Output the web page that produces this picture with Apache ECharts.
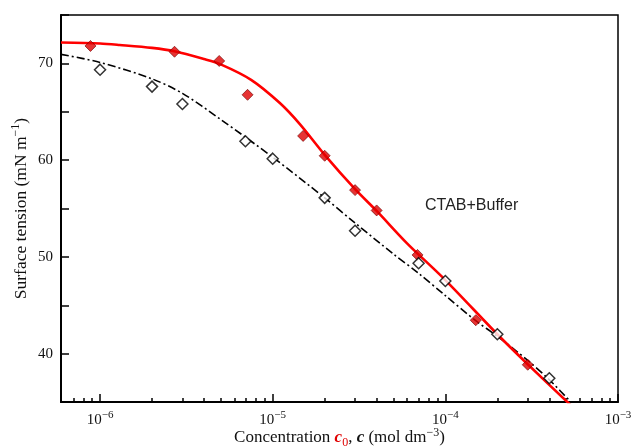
<!DOCTYPE html>
<html>
<head>
    <meta charset="UTF-8" />
    <title>Surface tension</title>
    <script src="https://cdn.jsdelivr.net/npm/echarts@6/dist/echarts.min.js"></script>
</head>
<body style="margin:0">
    <div id="chart" style="width:633px;height:448px;"></div>
    <script type="text/javascript">
        // measured points, c0 (red, filled) and c (open)
        let c0Points = [
            [8.8e-7, 71.8], [2.7e-6, 71.2], [4.9e-6, 70.25], [7.15e-6, 66.75],
            [1.5e-5, 62.5], [2.0e-5, 60.45], [3.0e-5, 56.9], [4.0e-5, 54.8],
            [6.9e-5, 50.2], [1.5e-4, 43.45], [3.0e-4, 38.85]
        ];
        let cPoints = [
            [1.0e-6, 69.35], [2.0e-6, 67.6], [3.0e-6, 65.8], [6.95e-6, 61.95],
            [1.0e-5, 60.15], [2.0e-5, 56.1], [3.0e-5, 52.7], [7.0e-5, 49.35],
            [1.0e-4, 47.5], [2.0e-4, 42.0], [4.0e-4, 37.45]
        ];
        // fitted curves
        let c0Fit = [
            [5.94e-7, 72.15], [1e-6, 72.05], [1.3e-6, 71.9], [2e-6, 71.6],
            [2.7e-6, 71.25], [4e-6, 70.45], [5e-6, 69.9], [7.5e-6, 68.3],
            [1.1e-5, 65.9], [1.44e-5, 63.7], [2e-5, 60.55], [3e-5, 57.0],
            [4e-5, 54.75], [6e-5, 51.4], [1e-4, 47.6], [2e-4, 42.0],
            [3e-4, 38.9], [5.6e-4, 34.3]
        ];
        let cFit = [
            [5.94e-7, 70.93], [1e-6, 70.1], [2e-6, 68.4], [3e-6, 66.9],
            [5e-6, 64.2], [1e-5, 60.3], [2e-5, 56.1], [3e-5, 53.5],
            [5e-5, 50.3], [7e-5, 48.3], [1e-4, 46.0], [1.5e-4, 43.4],
            [2e-4, 41.8], [3e-4, 39.3], [4e-4, 37.3], [5.6e-4, 34.6]
        ];
        let majorTicks = [1e-6, 1e-5, 1e-4, 1e-3];
        let minorTicks = [
            7e-7, 8e-7, 9e-7,
            2e-6, 3e-6, 4e-6, 5e-6, 6e-6, 7e-6, 8e-6, 9e-6,
            2e-5, 3e-5, 4e-5, 5e-5, 6e-5, 7e-5, 8e-5, 9e-5,
            2e-4, 3e-4, 4e-4, 5e-4, 6e-4, 7e-4, 8e-4, 9e-4
        ];
        let yLabels = [40, 50, 60, 70];

        let serif = 'Liberation Serif, Times New Roman, serif';
        let chart = echarts.init(document.getElementById('chart'));

        let option = {
            animation: false,
            grid: {
                left: 61, right: 15, top: 15, bottom: 46,
                outerBoundsMode: 'none', containLabel: false,
                show: true, borderColor: '#000', borderWidth: 1.5
            },
            title: {
                text: 'CTAB+Buffer',
                left: 420, top: 193,
                textStyle: { fontFamily: 'Liberation Sans, Arial, sans-serif', fontSize: 16, fontWeight: 'normal', color: '#222' }
            },
            xAxis: [
                {
                    type: 'log', min: 5.94e-7, max: 1e-3,
                    axisLine: { lineStyle: { color: '#000', width: 2 } },
                    splitLine: { show: false },
                    axisTick: { inside: true, length: 8, lineStyle: { color: '#000', width: 1.5 }, customValues: majorTicks },
                    axisLabel: {
                        customValues: majorTicks,
                        margin: 8,
                        formatter: v => '10{s|−' + Math.round(-Math.log10(v)) + '}',
                        fontFamily: serif, fontSize: 15, color: '#111', lineHeight: 20,
                        rich: { s: { fontFamily: serif, fontSize: 11, lineHeight: 11, verticalAlign: 'top', color: '#111' } }
                    },
                    name: 'Concentration {c0|c}{sub|0}, {cc|c} (mol dm{sup|−3})',
                    nameLocation: 'middle', nameGap: 25, nameMoveOverlap: false,
                    nameTextStyle: {
                        fontFamily: serif, fontSize: 17, color: '#111', lineHeight: 22,
                        rich: {
                            c0: { fontFamily: serif, fontSize: 17, fontStyle: 'italic', fontWeight: 'bold', color: '#e00000', lineHeight: 22 },
                            sub: { fontFamily: serif, fontSize: 12, color: '#e00000', verticalAlign: 'bottom', lineHeight: 14 },
                            cc: { fontFamily: serif, fontSize: 17, fontStyle: 'italic', fontWeight: 'bold', color: '#111', lineHeight: 22 },
                            sup: { fontFamily: serif, fontSize: 12, color: '#111', verticalAlign: 'top', lineHeight: 12 }
                        }
                    }
                },
                {
                    type: 'log', min: 5.94e-7, max: 1e-3, position: 'bottom',
                    axisLine: { show: false },
                    splitLine: { show: false },
                    axisLabel: { show: false },
                    axisTick: { inside: true, length: 4, lineStyle: { color: '#000', width: 1.5 }, customValues: minorTicks }
                }
            ],
            yAxis: {
                type: 'value', min: 35, max: 75, interval: 5,
                axisLine: { show: true, lineStyle: { color: '#000', width: 2 } },
                splitLine: { show: false },
                axisTick: { inside: true, length: 8, lineStyle: { color: '#000', width: 1.5 } },
                axisLabel: {
                    margin: 8,
                    formatter: v => yLabels.indexOf(v) >= 0 ? String(v) : '',
                    fontFamily: serif, fontSize: 15, color: '#111'
                },
                name: 'Surface tension (mN m{sup|−1})',
                nameLocation: 'middle', nameGap: 29, nameMoveOverlap: false,
                nameTextStyle: {
                    fontFamily: serif, fontSize: 17.5, color: '#111', lineHeight: 22,
                    rich: { sup: { fontFamily: serif, fontSize: 12, color: '#111', verticalAlign: 'top', lineHeight: 12 } }
                }
            },
            series: [
                {
                    type: 'line', data: cFit, showSymbol: false, smooth: 0.3,
                    lineStyle: { color: '#000', width: 1.6, type: [8, 3, 2, 3] }, z: 2
                },
                {
                    type: 'line', data: c0Fit, showSymbol: false, smooth: 0.3,
                    lineStyle: { color: '#ff0000', width: 2.6 }, z: 3
                },
                {
                    type: 'scatter', data: c0Points, symbol: 'diamond', symbolSize: 11,
                    itemStyle: { color: '#e00000', borderColor: '#700000', borderWidth: 0.8 }, z: 4
                },
                {
                    type: 'scatter', data: cPoints, symbol: 'diamond', symbolSize: 11,
                    itemStyle: { color: '#fff', borderColor: '#000', borderWidth: 1.5 }, z: 5
                }
            ]
        };
        chart.setOption(option);
    </script>
</body>
</html>
